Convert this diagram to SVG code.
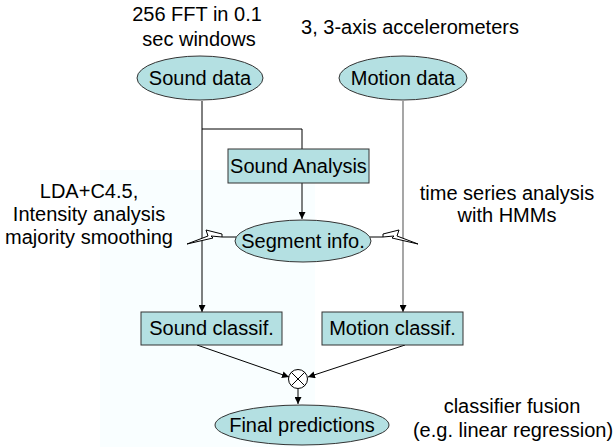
<svg xmlns="http://www.w3.org/2000/svg" width="616" height="447" viewBox="0 0 616 447">
<defs>
<style>
text{font-family:"Liberation Sans",Arial,sans-serif;font-size:20px;fill:#000;text-anchor:middle}
.node{fill:#b4e0e2;stroke:#333;stroke-width:1}
.c{fill:none;stroke:#000;stroke-width:1}
.g{fill:none;stroke:#777;stroke-width:1.3}
.bolt{fill:#fff;stroke:#000;stroke-width:1;stroke-linejoin:miter}
</style>
<marker id="ah" viewBox="0 0 10 10" refX="10" refY="5" markerWidth="7" markerHeight="7" markerUnits="userSpaceOnUse" orient="auto">
<path d="M0,0 L10,5 L0,10 Z" fill="#000"/>
</marker>
</defs>
<rect width="616" height="447" fill="#fff"/>
<rect x="100" y="170" width="215" height="277" fill="#f9feff"/>

<g id="connectors">
<line class="c" x1="202" y1="101" x2="202" y2="312" marker-end="url(#ah)"/>
<polyline class="c" points="202,129 302,129 302,149"/>
<line class="c" x1="302" y1="183" x2="302" y2="219" marker-end="url(#ah)"/>
<line class="g" x1="403" y1="101" x2="403" y2="312" marker-end="url(#ah)"/>
<line class="c" x1="236" y1="237" x2="222" y2="237"/>
<line class="c" x1="370" y1="237" x2="383" y2="237"/>
<polygon class="bolt" points="222,234 206,230 208,236 187,244 213,238 211,236 222,237"/>
<polygon class="bolt" points="383,234 399,230 397,236 418,244 392,238 394,236 383,237"/>
<line class="c" x1="197" y1="345" x2="289" y2="377" marker-end="url(#ah)"/>
<line class="c" x1="405" y1="345" x2="308" y2="377" marker-end="url(#ah)"/>
<line class="c" x1="298" y1="389" x2="298" y2="404" marker-end="url(#ah)"/>
</g>

<g id="fusion">
<circle cx="298" cy="379" r="9.5" fill="#fff" stroke="#000" stroke-width="1"/>
<line class="c" x1="291.3" y1="372.3" x2="304.7" y2="385.7"/>
<line class="c" x1="304.7" y1="372.3" x2="291.3" y2="385.7"/>
</g>

<g id="sound-data">
<ellipse class="node" cx="200" cy="78" rx="63" ry="22"/>
<text x="200" y="85">Sound data</text>
</g>
<g id="motion-data">
<ellipse class="node" cx="403" cy="78" rx="64" ry="22"/>
<text x="403" y="85">Motion data</text>
</g>
<g id="sound-analysis">
<rect class="node" x="228" y="149" width="141" height="34"/>
<text x="298.5" y="173">Sound Analysis</text>
</g>
<g id="segment-info">
<ellipse class="node" cx="303" cy="241" rx="68" ry="21"/>
<text x="303" y="248">Segment info.</text>
</g>
<g id="sound-classif">
<rect class="node" x="141" y="312" width="141" height="33"/>
<text x="211.5" y="335">Sound classif.</text>
</g>
<g id="motion-classif">
<rect class="node" x="322" y="312" width="141" height="33"/>
<text x="392.5" y="335">Motion classif.</text>
</g>
<g id="final">
<ellipse class="node" cx="302" cy="425" rx="87" ry="20"/>
<text x="302" y="432">Final predictions</text>
</g>

<g id="labels">
<text x="197" y="21">256 FFT in 0.1</text>
<text x="199" y="46">sec windows</text>
<text x="410" y="34">3, 3-axis accelerometers</text>
<text x="89" y="198">LDA+C4.5,</text>
<text x="89" y="221">Intensity analysis</text>
<text x="89" y="244">majority smoothing</text>
<text x="507" y="200">time series analysis</text>
<text x="507" y="222">with HMMs</text>
<text x="512" y="413">classifier fusion</text>
<text x="513" y="437">(e.g. linear regression)</text>
</g>
</svg>
